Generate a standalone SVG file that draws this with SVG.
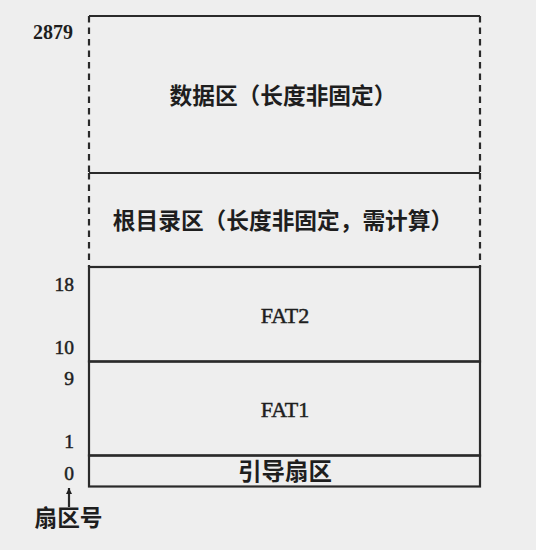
<svg xmlns="http://www.w3.org/2000/svg" width="536" height="550" viewBox="0 0 536 550">
<defs>
<style>
.ln{stroke:#2a2a2a;stroke-width:2.2;fill:none}
.dash{stroke-dasharray:6.5 5}
.num{font-family:"Liberation Serif","Times New Roman",serif;font-size:19.5px;fill:#1e1e1e;stroke:#1e1e1e;stroke-width:0.5;text-anchor:end}
.numb{font-family:"Liberation Serif","Times New Roman",serif;font-size:20px;font-weight:bold;fill:#1e1e1e;text-anchor:end}
.cjk{font-family:"Noto Sans CJK SC","Noto Sans",sans-serif;font-weight:bold;font-size:22.7px;fill:#1e1e1e;text-anchor:middle}
.lat{font-family:"Liberation Serif","Times New Roman",serif;font-size:22px;fill:#1e1e1e;stroke:#1e1e1e;stroke-width:0.5;text-anchor:middle}
</style>
<marker id="ah" viewBox="0 0 10 10" refX="10" refY="5" markerWidth="6" markerHeight="6" orient="auto" markerUnits="userSpaceOnUse">
<path d="M0 0 L10 5 L0 10 Z" fill="#1e1e1e"/>
</marker>
</defs>
<rect width="536" height="550" fill="#eeeeee"/>

<g id="data-region">
<path class="ln" d="M89 16 H480"/>
<path class="ln dash" d="M89 16 V173 M480 16 V173"/>
<text class="cjk" x="283" y="104">数据区（长度非固定）</text>
</g>

<g id="root-dir-region">
<path class="ln" d="M89 173 H480"/>
<path class="ln dash" d="M89 173 V267 M480 173 V267"/>
<text class="cjk" x="283" y="229">根目录区（长度非固定，需计算）</text>
</g>

<g id="fat2">
<rect class="ln" x="89" y="267" width="391" height="94.5"/>
<text class="lat" x="285" y="323">FAT2</text>
</g>

<g id="fat1">
<rect class="ln" x="89" y="361.5" width="391" height="94"/>
<text class="lat" x="285" y="417">FAT1</text>
</g>

<g id="boot-sector">
<rect class="ln" x="89" y="455.5" width="391" height="31"/>
<text class="cjk" x="285" y="480" style="font-size:23.5px">引导扇区</text>
</g>

<g id="sector-labels">
<text class="numb" x="73" y="39">2879</text>
<text class="num" x="74" y="291">18</text>
<text class="num" x="74" y="354">10</text>
<text class="num" x="74" y="385">9</text>
<text class="num" x="74" y="448">1</text>
<text class="num" x="74" y="480">0</text>
<text class="cjk" x="68.5" y="526">扇区号</text>
</g>

<g id="connectors">
<path class="ln" d="M69 507 V488" stroke-width="1.6" marker-end="url(#ah)"/>
</g>
</svg>
